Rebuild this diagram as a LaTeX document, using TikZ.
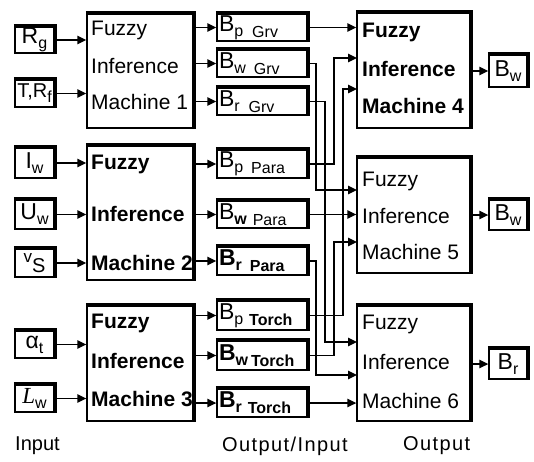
\documentclass[tikz,border=0pt]{standalone}
\usepackage{fontspec}
\setmainfont{Liberation Sans}
\newfontfamily\lserif{Liberation Serif}
\usetikzlibrary{arrows.meta,fit}
\newcommand\sub[1]{\raisebox{-5pt}{\fontsize{16}{16}\selectfont #1}}
\newcommand\tsub[1]{\raisebox{-6pt}{\fontsize{16}{16}\selectfont #1}}
\newcommand\shd[1]{\draw[line width=2.6pt] ([shift={(-0.5,-1.2)}]#1.north west) -- ([shift={(1.2,-1.2)}]#1.north east) -- ([shift={(1.2,0.5)}]#1.south east);}
\begin{document}
\begin{tikzpicture}[x=1pt,y=-1pt,
  box/.style={draw, line width=1.4pt, fill=white, inner sep=0pt},
  wire/.style={line width=1.4pt, -{Triangle[length=9pt,width=8.5pt]}},
  mt/.style={anchor=west, inner sep=0pt, font=\fontsize{21}{21}\selectfont},
  mb/.style={anchor=west, inner sep=0pt, font=\fontsize{21}{21}\selectfont\bfseries},
  il/.style={font=\fontsize{23}{23}\selectfont, inner sep=0pt},
  bl/.style={font=\fontsize{23}{23}\selectfont, text width=86pt, align=left, inner sep=0pt},
  bot/.style={anchor=west, inner sep=0pt, font=\fontsize{20}{20}\selectfont}]
\useasboundingbox (0,0) rectangle (534,461);

% input boxes
\node[box, fit={(15,27) (54,53)}] (rg) {};
\node[il] (rgt) at (rg.center) {R\sub{g}};
\node[box, fit={(15,80) (54,107)}] (trf) {};
\node[il, font=\fontsize{20}{20}\selectfont] (trft) at (trf.center) {T,R\sub{f}};
\node[box, fit={(15,148) (54,178)}] (iw) {};
\node[il] (iwt) at (iw.center) {I\sub{w}};
\node[box, fit={(15,200) (54,229)}] (uw) {};
\node[il] (uwt) at (uw.center) {U\sub{w}};
\node[box, fit={(15,249) (54,277)}] (vs) {};
\node[il] (vst) at (vs.center) {\raisebox{5pt}{\fontsize{17}{17}\selectfont v}\sub{\fontsize{20}{20}\selectfont S}};
\node[box, fit={(15,331) (54,358)}] (at) {};
\node[il] (att) at (at.center) {α\sub{t}};
\node[box, fit={(15,385) (54,412)}] (lw) {};
\node[il] (lwt) at (lw.center) {{\lserif\itshape L}\sub{w}};

% machines 1-3
\node[box, fit={(87,14) (193,128)}] (m1) {};
\node[mt] (m1a) at (91,30) {Fuzzy};
\node[mt] (m1b) at (91,66) {Inference};
\node[mt] (m1c) at (91,102) {Machine 1};
\node[box, fit={(87,146) (193,280)}] (m2) {};
\node[mb] (m2a) at (91,164) {Fuzzy};
\node[mb] (m2b) at (91,214) {Inference};
\node[mb] (m2c) at (91,263) {Machine 2};
\node[box, fit={(87,306) (193,421)}] (m3) {};
\node[mb] (m3a) at (91,323) {Fuzzy};
\node[mb] (m3b) at (91,361) {Inference};
\node[mb] (m3c) at (91,399) {Machine 3};

% intermediate boxes
\node[box, fit={(217,14) (307,41)}] (bpg) {};
\node[bl] (bpgt) at (bpg.center) {B\sub{p}\hspace{9pt}\tsub{Grv}};
\node[box, fit={(217,50) (307,77)}] (bwg) {};
\node[bl] (bwgt) at (bwg.center) {B\sub{w}\hspace{8pt}\tsub{Grv}};
\node[box, fit={(217,88) (307,115)}] (brg) {};
\node[bl] (brgt) at (brg.center) {B\sub{r}\hspace{9pt}\tsub{Grv}};
\node[box, fit={(217,150) (307,178)}] (bpp) {};
\node[bl] (bppt) at (bpp.center) {B\sub{p}\hspace{8pt}\tsub{Para}};
\node[box, fit={(217,201) (307,228)}] (bwp) {};
\node[bl] (bwpt) at (bwp.center) {B\sub{\bfseries w}\hspace{6pt}\tsub{Para}};
\node[box, fit={(217,247) (307,275)}] (brp) {};
\node[bl] (brpt) at (brp.center) {\bfseries B\sub{r}\hspace{8pt}\tsub{Para}};
\node[box, fit={(217,301) (307,330)}] (bpt) {};
\node[bl] (bptt) at (bpt.center) {B\sub{p}\hspace{6pt}\tsub{\bfseries Torch}};
\node[box, fit={(217,341) (307,370)}] (bwt) {};
\node[bl] (bwtt) at (bwt.center) {\bfseries B\sub{w}\hspace{3pt}\tsub{Torch}};
\node[box, fit={(217,389) (307,417)}] (brt) {};
\node[bl] (brtt) at (brt.center) {\bfseries B\sub{r}\hspace{6pt}\tsub{Torch}};

% machines 4-6
\node[box, fit={(357,13) (470,128)}] (m4) {};
\node[mb] (m4a) at (362,32) {Fuzzy};
\node[mb] (m4b) at (362,69) {Inference};
\node[mb] (m4c) at (362,106) {Machine 4};
\node[box, fit={(357,158) (470,273)}] (m5) {};
\node[mt] (m5a) at (362,181) {Fuzzy};
\node[mt] (m5b) at (362,216) {Inference};
\node[mt] (m5c) at (362,252) {Machine 5};
\node[box, fit={(357,306) (470,421)}] (m6) {};
\node[mt] (m6a) at (362,324) {Fuzzy};
\node[mt] (m6b) at (362,362) {Inference};
\node[mt] (m6c) at (362,401) {Machine 6};

% output boxes
\node[box, fit={(489,55) (527,87)}] (o4) {};
\node[il] (o4t) at (o4.center) {B\sub{w}};
\node[box, fit={(489,200) (527,230)}] (o5) {};
\node[il] (o5t) at (o5.center) {B\sub{w}};
\node[box, fit={(489,349) (527,379)}] (o6) {};
\node[il] (o6t) at (o6.center) {B\sub{r}};

\foreach \n in {rg,trf,iw,uw,vs,at,lw,m1,m2,m3,bpg,bwg,brg,bpp,bwp,brp,bpt,bwt,brt,m4,m5,m6,o4,o5,o6}
  {\shd{\n}}

% bottom labels
\node[bot] (lin) at (15,446) {Input};
\node[bot] (lio) at (222,446) {\addfontfeatures{LetterSpace=7}Output/Input};
\node[bot] (lout) at (403,446) {\addfontfeatures{LetterSpace=7}Output};

% routing coordinates
\coordinate (vA) at (316,0);
\coordinate (vB) at (325,0);
\coordinate (vC) at (334,0);
\coordinate (vD) at (343,0);
\coordinate (i42) at (357,58);
\coordinate (i43) at (357,89);
\coordinate (i51) at (357,190);
\coordinate (i53) at (357,242);
\coordinate (i61) at (357,342);
\coordinate (i62) at (357,375);

% inputs to machines 1-3
\foreach \b/\m in {rg/m1,trf/m1,iw/m2,uw/m2,vs/m2,at/m3,lw/m3}
  \draw[wire] (\b.east) -- (\b.east -| \m.west);
% machines 1-3 to intermediate boxes
\foreach \b/\m in {bpg/m1,bwg/m1,brg/m1,bpp/m2,bwp/m2,brp/m2,bpt/m3,bwt/m3,brt/m3}
  \draw[wire] (\b.west -| \m.east) -- (\b.west);

% intermediate to machines 4-6
\draw[wire] (bpg.east) -- (bpg.east -| m4.west);
\draw[wire] (bpp.east) -| (vC |- i42) -- (i42);
\draw[wire] (bpt.east) -| (vD |- i43) -- (i43);
\draw[wire] (bwg.east) -| (vA |- i51) -- (i51);
\draw[wire] (bwp.east) -- (bwp.east -| m5.west);
\draw[wire] (bwt.east) -| (vC |- i53) -- (i53);
\draw[wire] (brg.east) -| (vB |- i61) -- (i61);
\draw[wire] (brp.east) -| (vA |- i62) -- (i62);
\draw[wire] (brt.east) -- (brt.east -| m6.west);

% machines 4-6 to outputs
\draw[wire] (o4.west -| m4.east) -- (o4.west);
\draw[wire] (o5.west -| m5.east) -- (o5.west);
\draw[wire] (o6.west -| m6.east) -- (o6.west);
\end{tikzpicture}
\end{document}
